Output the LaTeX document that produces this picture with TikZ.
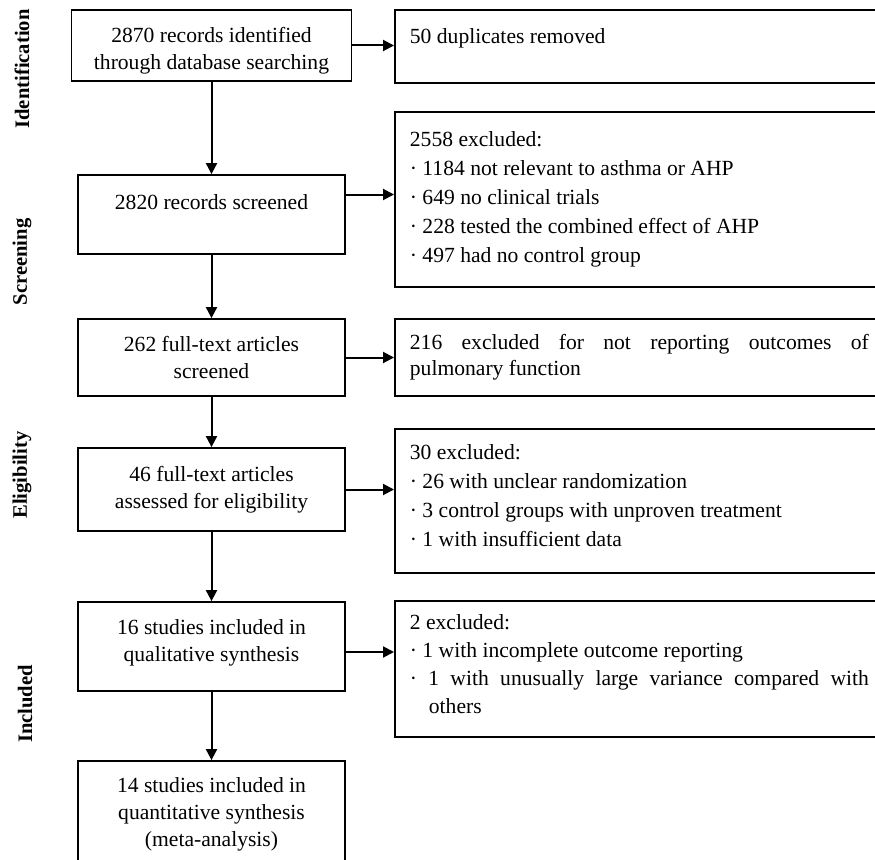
\documentclass[tikz,border=0pt]{standalone}
\usepackage{fontspec}
\setmainfont{Liberation Serif}
\usetikzlibrary{arrows.meta,positioning}
\setlength{\parindent}{0pt}

\begin{document}
\begin{tikzpicture}[x=1pt,y=-1pt]
\tikzset{
  stepbox/.style={draw,line width=1.8pt,align=center,minimum width=267pt,inner sep=4pt,font=\fontsize{21.6}{27}\selectfont},
  sidebox/.style={draw,line width=1.8pt,anchor=west,text width=459pt,align=justify,inner xsep=15pt,inner ysep=4pt,font=\fontsize{21.6}{29}\selectfont},
  stagelabel/.style={rotate=90,font=\fontsize{20.6}{24}\selectfont\bfseries},
  flow/.style={-{Triangle[length=11pt,width=11pt]},line width=2pt}
}
\useasboundingbox (0,0) rectangle (875,859);
\clip (0,0) rectangle (875,859);
\node[stagelabel] (s_id) at (22,69) {Identification};
\node[stagelabel] (s_scr) at (22,262) {Screening};
\node[stagelabel] (s_elig) at (22,475) {Eligibility};
\node[stagelabel] (s_incl) at (25,704) {Included};
\node[stepbox,minimum width=280pt,minimum height=71pt] (n_found) at (211.5,45.5) {\rule{0pt}{25pt}2870 records identified\\through database searching};
\node[stepbox,minimum height=79pt] (n_screen) at (211.5,214.5) {2820 records screened\\[-10pt]\strut};
\node[stepbox,minimum height=77pt] (n_full) at (211.5,357.5) {262 full-text articles\\screened};
\node[stepbox,minimum height=83pt] (n_elig) at (211.5,489.5) {46 full-text articles\\assessed for eligibility};
\node[stepbox,minimum height=89pt] (n_qual) at (211.5,646.5) {16 studies included in\\qualitative synthesis\rule[-13pt]{0pt}{13pt}};
\node[stepbox,minimum height=106pt] (n_quant) at (211.5,814) {14 studies included in\\quantitative synthesis\\(meta-analysis)};
\node[sidebox,minimum height=73pt] (x_dup) at (394,46.5) {50 duplicates removed\\[-16pt]\strut};
\node[sidebox,minimum height=175pt] (x_scr) at (394,199.5) {2558 excluded:\par · 1184 not relevant to asthma or AHP\par · 649 no clinical trials\par · 228 tested the combined effect of AHP\par · 497 had no control group};
\node[sidebox,minimum height=77pt,font=\fontsize{21.6}{26}\selectfont] (x_full) at (394,357.5) {216 excluded for not reporting outcomes of\linebreak pulmonary function};
\node[sidebox,minimum height=144pt] (x_elig) at (394,501) {30 excluded:\par · 26 with unclear randomization\par · 3 control groups with unproven treatment\par · 1 with insufficient data\rule[-10pt]{0pt}{10pt}};
\node[sidebox,minimum height=136pt,font=\fontsize{21.6}{28}\selectfont] (x_qual) at (394,669) {2 excluded:\par · 1 with incomplete outcome reporting\par · 1 with unusually large variance compared with\linebreak\hspace*{19pt}others\rule[-10pt]{0pt}{10pt}};
\coordinate (a_scr) at ([yshift=20pt]n_screen.east);
\coordinate (a_qual) at ([yshift=-5.5pt]n_qual.east);
\draw[flow] (n_found) -- (n_screen);
\draw[flow] (n_screen) -- (n_full);
\draw[flow] (n_full) -- (n_elig);
\draw[flow] (n_elig) -- (n_qual);
\draw[flow] (n_qual) -- (n_quant);
\draw[flow] (n_found.east) -- (n_found.east -| x_dup.west);
\draw[flow] (a_scr) -- (a_scr -| x_scr.west);
\draw[flow] (n_full.east) -- (n_full.east -| x_full.west);
\draw[flow] (n_elig.east) -- (n_elig.east -| x_elig.west);
\draw[flow] (a_qual) -- (a_qual -| x_qual.west);
\end{tikzpicture}
\end{document}
